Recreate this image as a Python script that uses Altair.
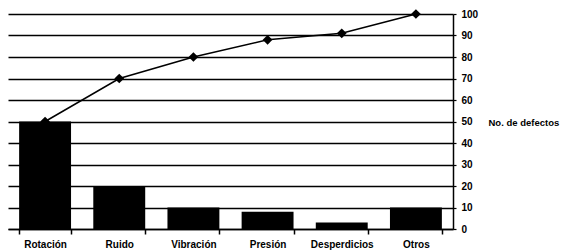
import altair as alt
import pandas as pd

categories = ["Rotación", "Ruido", "Vibración", "Presión", "Desperdicios", "Otros"]
counts = [50, 20, 10, 8, 3, 10]
cumulative = [50, 70, 80, 88, 91, 100]
y_ticks = list(range(0, 101, 10))

df = pd.DataFrame({"cat": categories, "count": counts, "cum": cumulative})

FONT = "Liberation Sans"

x_axis = alt.Axis(
    title=None,
    labelAngle=0,
    labelFont=FONT,
    labelFontWeight="bold",
    labelFontSize=10,
    labelColor="black",
    labelPadding=5,
    tickBand="extent",
    tickColor="black",
    tickSize=5,
    tickWidth=1.5,
    domainColor="black",
    domainWidth=1.5,
    grid=False,
)

y_axis = alt.Axis(
    orient="right",
    values=y_ticks,
    title="No. de defectos",
    titleAngle=0,
    titleAlign="left",
    titleBaseline="middle",
    titleX=35,
    titleY=108,
    titleFont=FONT,
    titleFontWeight="bold",
    titleFontSize=9.5,
    titleColor="black",
    labelFont=FONT,
    labelFontWeight="bold",
    labelFontSize=10,
    labelColor="black",
    labelPadding=5,
    tickColor="black",
    tickSize=3,
    tickWidth=1.2,
    domainColor="black",
    domainWidth=1.5,
    grid=True,
    gridColor="black",
    gridOpacity=1,
    gridWidth=1.3,
)

x_scale = alt.Scale(paddingInner=0.3, paddingOuter=0.15)
y_scale = alt.Scale(domain=[0, 100])

bars = alt.Chart(df).mark_bar(color="black").encode(
    x=alt.X("cat:N", sort=categories, scale=x_scale, axis=x_axis),
    y=alt.Y("count:Q", scale=y_scale, axis=y_axis),
)

line = alt.Chart(df).mark_line(color="black", strokeWidth=1.5).encode(
    x=alt.X("cat:N", sort=categories, scale=x_scale, axis=x_axis),
    y=alt.Y("cum:Q", scale=y_scale, axis=y_axis),
)

points = alt.Chart(df).mark_point(
    shape="diamond", filled=True, color="black", size=95, opacity=1
).encode(
    x=alt.X("cat:N", sort=categories, scale=x_scale, axis=x_axis),
    y=alt.Y("cum:Q", scale=y_scale, axis=y_axis),
)

chart = (
    alt.layer(bars, line, points)
    .resolve_scale(y="shared")
    .properties(
        width=445,
        height=215,
        autosize=alt.AutoSizeParams(type="none"),
        padding={"left": 0, "top": 6, "right": 114, "bottom": 22},
        background="white",
    )
    .configure_view(stroke=None)
)

chart.save("out.html", embed_options={"renderer": "svg", "actions": False})
